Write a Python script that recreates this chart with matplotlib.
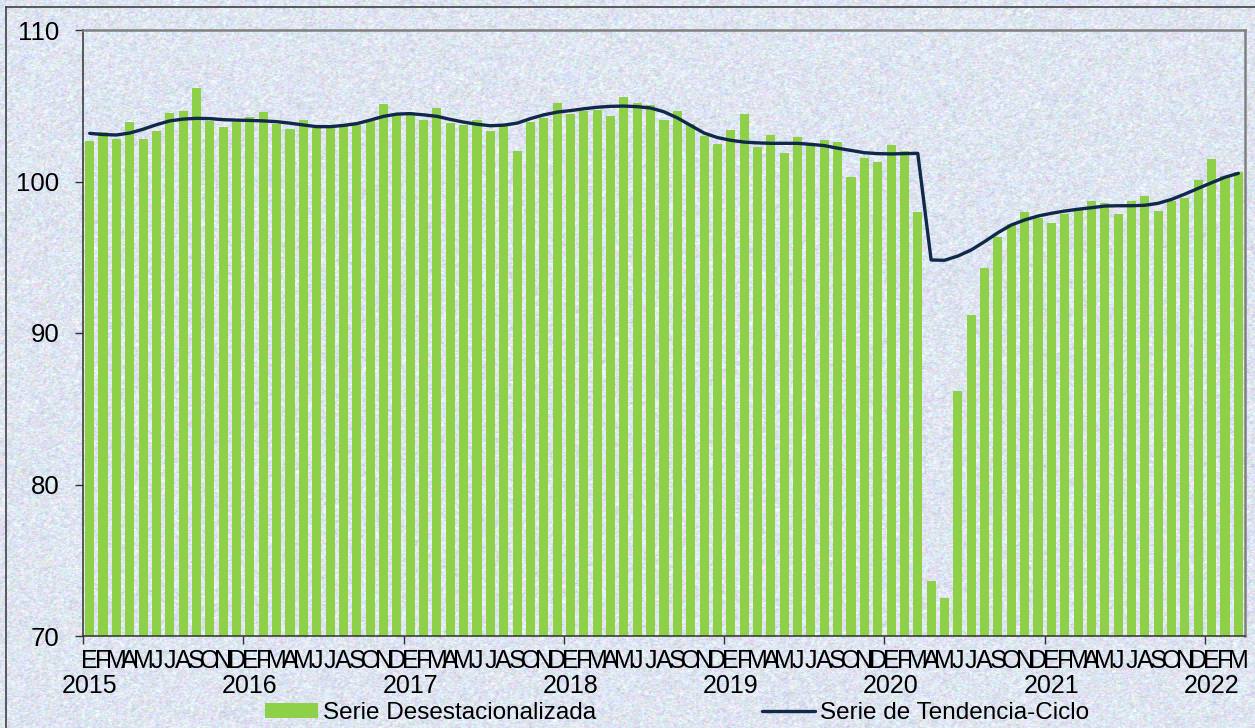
import numpy as np
import matplotlib
matplotlib.use("Agg")
import matplotlib.pyplot as plt
from matplotlib.lines import Line2D

plt.rcParams['font.family'] = ['Liberation Sans', 'DejaVu Sans']

# Series, January 2015 .. March 2022
years = [2015, 2016, 2017, 2018, 2019, 2020, 2021, 2022]
month_letters = ["E", "F", "M", "A", "M", "J", "J", "A", "S", "O", "N", "D"]

desest = [
    102.67, 103.25, 102.79, 103.93, 102.80, 103.33, 104.50, 104.65, 106.19, 104.01, 103.62, 103.93,
    104.26, 104.59, 103.80, 103.47, 104.06, 103.50, 103.62, 103.71, 103.71, 103.99, 105.10, 104.39,
    104.39, 104.06, 104.87, 103.88, 103.73, 104.06, 103.36, 103.73, 102.01, 103.90, 104.17, 105.19,
    104.44, 104.63, 104.72, 104.32, 105.58, 105.15, 105.05, 104.08, 104.65, 103.77, 103.02, 102.49,
    103.40, 104.46, 102.28, 103.08, 101.85, 102.95, 102.48, 102.76, 102.63, 100.28, 101.57, 101.29,
    102.41, 102.03, 98.00, 73.60, 72.50, 86.18, 91.20, 94.31, 96.36, 97.17, 97.99, 97.62,
    97.28, 97.85, 98.27, 98.71, 98.56, 97.83, 98.70, 99.05, 98.06, 98.72, 98.90, 100.10,
    101.49, 100.35, 100.62,
]

tendencia = [
    103.18, 103.10, 103.07, 103.20, 103.45, 103.75, 104.00, 104.12, 104.17, 104.15, 104.08, 104.05,
    104.03, 104.00, 103.95, 103.85, 103.73, 103.62, 103.62, 103.70, 103.82, 104.05, 104.30, 104.45,
    104.48, 104.40, 104.30, 104.10, 103.92, 103.78, 103.68, 103.72, 103.85, 104.15, 104.40, 104.58,
    104.68, 104.80, 104.90, 104.96, 104.98, 104.94, 104.85, 104.60, 104.20, 103.70, 103.20, 102.90,
    102.72, 102.60, 102.55, 102.52, 102.52, 102.52, 102.45, 102.37, 102.20, 102.05, 101.90, 101.84,
    101.82, 101.84, 101.86, 94.82, 94.80, 95.08, 95.48, 96.03, 96.62, 97.13, 97.46, 97.72,
    97.90, 98.05, 98.17, 98.27, 98.38, 98.40, 98.40, 98.43, 98.56, 98.82, 99.17, 99.55,
    99.92, 100.28, 100.54,
]

n = len(desest)
x = np.arange(n)

fig = plt.figure(figsize=(12.55, 7.28), dpi=100)
fig.patch.set_facecolor("none")

# grainy pastel backdrop
rng = np.random.default_rng(11)
H, W = 728, 1255
grain = rng.random((H // 2 + 2, W // 2 + 2, 3))
grain = (grain + np.roll(grain, 1, 0) + np.roll(grain, 1, 1)) / 3.0
grain = np.repeat(np.repeat(grain, 2, 0), 2, 1)[:H, :W]
lum = rng.normal(0, 1, (H, W))
lum = (lum + np.roll(lum, 1, 0) + np.roll(lum, 1, 1) + np.roll(lum, -1, 1)) / 4.0
base = np.array([0.875, 0.900, 0.945])
texture = base + (grain - 0.5) * 0.13 + lum[..., None] * 0.055
texture = np.clip(texture, 0, 1)
bg = fig.add_axes([0, 0, 1, 1], zorder=-5)
bg.imshow(texture, aspect="auto", interpolation="nearest")
bg.axis("off")

# outer chart frame
fig.add_artist(Line2D([6 / W, 1.2], [1 - 7 / H, 1 - 7 / H], color="#404040", lw=1.2))
fig.add_artist(Line2D([6 / W, 6 / W], [1 - 7 / H, -0.2], color="#404040", lw=1.2))

ax = fig.add_axes([83 / W, 1 - 636 / H, 1162 / W, 606 / H])
ax.set_facecolor("none")

bars = ax.bar(x, desest, width=0.68, bottom=0, color="#8ED048", zorder=2)
line, = ax.plot(x, tendencia, color="#10284A", lw=2.4, zorder=3, solid_joinstyle="round",
                solid_capstyle="round")

ax.set_xlim(-0.5, n - 0.5)
ax.set_ylim(70, 110)
ax.set_yticks([70, 80, 90, 100, 110])
ax.tick_params(axis="y", direction="out", length=6, width=1, pad=11, labelsize=18.5,
               color="#303030")

# month letters under each bar, year boundary ticks
ax.set_xticks(x)
ax.set_xticklabels([month_letters[i % 12] for i in x])
ax.tick_params(axis="x", which="major", length=0, pad=9, labelsize=18)
ax.set_xticks(np.arange(0, n, 12) - 0.5, minor=True)
ax.tick_params(axis="x", which="minor", length=6, width=1, color="#303030")
for k, yr in enumerate(years):
    ax.text(12 * k, -0.083, str(yr), transform=ax.get_xaxis_transform(),
            ha="center", va="center", fontsize=18)

for side in ("top", "right"):
    ax.spines[side].set_color("#808080")
    ax.spines[side].set_linewidth(1.8)
for side in ("left", "bottom"):
    ax.spines[side].set_color("#303030")
    ax.spines[side].set_linewidth(1.1)

fig.legend([bars, line], ["Serie Desestacionalizada", "Serie de Tendencia-Ciclo"],
           loc="center", bbox_to_anchor=(677 / W, 1 - 713 / H), ncol=2, frameon=False,
           fontsize=17.5, handlelength=2.2, handleheight=0.55, handletextpad=0.2,
           columnspacing=6.8, borderpad=0)

fig.savefig("out.png", dpi=100)
